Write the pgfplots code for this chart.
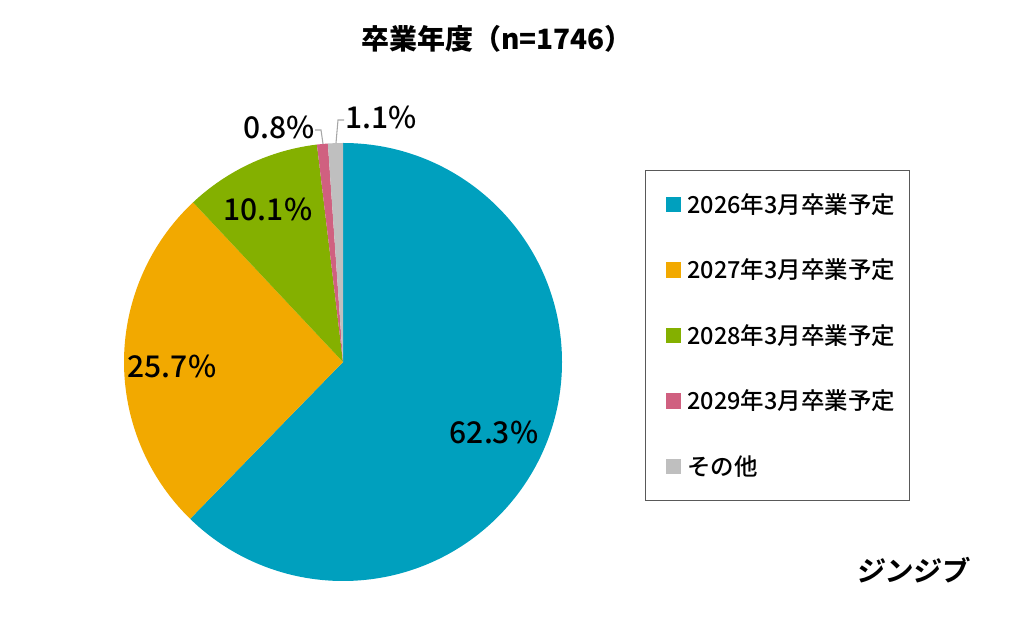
\documentclass[border=0pt]{standalone}
\usepackage{pgfplots}
\pgfplotsset{compat=1.18}
\usepackage{fontspec}
\setmainfont{Noto Sans CJK JP}
\newfontfamily\medfont{Noto Sans CJK JP Medium}
\newfontfamily\logofont[FakeSlant=0.12]{Noto Sans CJK JP Bold}
\definecolor{c1}{RGB}{0,160,190}
\definecolor{c2}{RGB}{242,169,0}
\definecolor{c3}{RGB}{132,176,0}
\definecolor{c4}{RGB}{208,96,128}
\definecolor{c5}{RGB}{191,191,191}
\definecolor{leader}{RGB}{166,166,166}
\begin{document}
\begin{tikzpicture}
\begin{axis}[
  x=0.75pt, y=0.75pt, xmin=0, xmax=1024, ymin=0, ymax=617,
  hide axis, clip=false,
  legend cell align=left,
  legend style={at={(axis cs:645,447)}, anchor=north west,
    draw=black!65, line width=0.9pt, fill=white,
    font=\fontsize{17.6}{19}\selectfont\medfont,
    nodes={inner sep=0pt, text height=14.5pt, text depth=1.5pt},
    row sep=33.1pt, column sep=5pt,
    inner xsep=10.5pt, inner ysep=17.5pt},
  legend image code/.code={\path (-4.5pt,0pt); \fill[#1] (0pt,-5.25pt) rectangle (10.5pt,5.25pt);},
]
\path (axis cs:0,0) rectangle (axis cs:1024,617);
% pie slices (percent values, clockwise from top)
\fill[c1] (axis cs:343,255) -- ++(90:164.25pt) arc[start angle=90, end angle={90-3.6*62.3}, radius=164.25pt] -- cycle;
\fill[c2] (axis cs:343,255) -- ++({90-3.6*62.3}:164.25pt) arc[start angle={90-3.6*62.3}, end angle={90-3.6*(62.3+25.7)}, radius=164.25pt] -- cycle;
\fill[c3] (axis cs:343,255) -- ++({90-3.6*88.0}:164.25pt) arc[start angle={90-3.6*88.0}, end angle={90-3.6*(88.0+10.1)}, radius=164.25pt] -- cycle;
\fill[c4] (axis cs:343,255) -- ++({90-3.6*98.1}:164.25pt) arc[start angle={90-3.6*98.1}, end angle={90-3.6*(98.1+0.8)}, radius=164.25pt] -- cycle;
\fill[c5] (axis cs:343,255) -- ++({90-3.6*98.9}:164.25pt) arc[start angle={90-3.6*98.9}, end angle={90-3.6*(98.9+1.1)}, radius=164.25pt] -- cycle;
% labels
\node[font=\fontsize{22.5}{24}\selectfont\medfont] at (axis cs:494,185) {62.3\%};
\node[font=\fontsize{22.5}{24}\selectfont\medfont] at (axis cs:172,251) {25.7\%};
\node[font=\fontsize{22.5}{24}\selectfont\medfont] at (axis cs:268,408) {10.1\%};
\node[font=\fontsize{22.5}{24}\selectfont\medfont] at (axis cs:279,490) {0.8\%};
\node[font=\fontsize{22.5}{24}\selectfont\medfont] at (axis cs:381,500) {1.1\%};
\draw[leader, line width=0.8pt] (axis cs:315,487) -- (axis cs:321,487) -- (axis cs:323,473);
\draw[leader, line width=0.8pt] (axis cs:336,474) -- (axis cs:338,497) -- (axis cs:344,497);
% title and logo
\node[font=\fontsize{21}{24}\selectfont\bfseries] at (axis cs:497,578) {卒業年度（n=1746）};
\node[font=\fontsize{21}{24}\selectfont\logofont] at (axis cs:912,47) {ジンジブ};
% legend
\addlegendimage{c1}\addlegendentry{2026年3月卒業予定}
\addlegendimage{c2}\addlegendentry{2027年3月卒業予定}
\addlegendimage{c3}\addlegendentry{2028年3月卒業予定}
\addlegendimage{c4}\addlegendentry{2029年3月卒業予定}
\addlegendimage{c5}\addlegendentry{その他}
\end{axis}
\end{tikzpicture}
\end{document}
